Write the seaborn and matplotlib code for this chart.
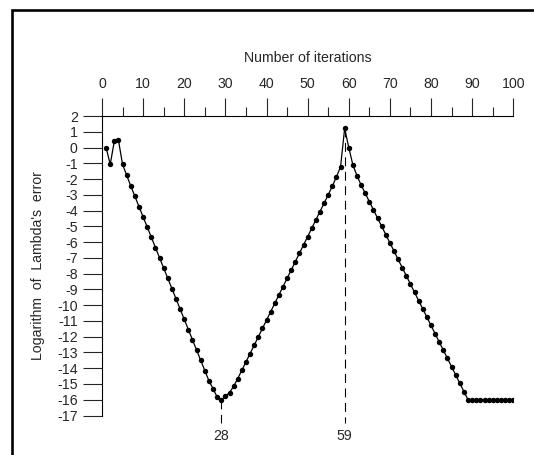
import matplotlib
matplotlib.use("Agg")
import matplotlib.pyplot as plt
from matplotlib.patches import Rectangle
from matplotlib.ticker import MultipleLocator
import seaborn as sns
import pandas as pd

iterations = list(range(1, 101))
log_error = [
    0.00, -1.07, 0.41, 0.46, -1.07, -1.76, -2.44, -3.10, -3.75, -4.40,
    -5.05, -5.70, -6.35, -7.00, -7.65, -8.30, -8.95, -9.60, -10.25, -10.90,
    -11.55, -12.20, -12.85, -13.50, -14.15, -14.80, -15.30, -15.83, -16.00, -15.79,
    -15.55, -15.15, -14.66, -14.13, -13.60, -13.07, -12.54, -12.01, -11.48, -10.95,
    -10.42, -9.89, -9.36, -8.83, -8.30, -7.77, -7.24, -6.71, -6.18, -5.65,
    -5.12, -4.59, -4.06, -3.53, -3.00, -2.45, -1.86, -1.22, 1.22, 0.00,
    -1.11, -1.79, -2.38, -2.90, -3.43, -3.95, -4.48, -5.00, -5.52, -6.05,
    -6.57, -7.10, -7.62, -8.14, -8.67, -9.19, -9.72, -10.24, -10.76, -11.29,
    -11.81, -12.34, -12.86, -13.38, -13.91, -14.43, -14.96, -15.48, -16.00, -16.00,
    -16.00, -16.00, -16.00, -16.00, -16.00, -16.00, -16.00, -16.00, -16.00, -16.00,
]
marked_x = [29, 59]
marked_labels = ["28", "59"]
x_ticks = list(range(0, 101, 10))
y_ticks = list(range(-17, 3))

sns.set_style("white")
plt.rcParams['font.family'] = ['Liberation Sans', 'DejaVu Sans']

FS = 10.2

df = pd.DataFrame({"iter": iterations, "err": log_error})

fig = plt.figure(figsize=(5.34, 4.55), dpi=100)
ax = fig.add_axes([102 / 534, 1 - 415.5 / 455, (513.3 - 102) / 534, (415.5 - 116) / 455])

sns.lineplot(data=df, x="iter", y="err", ax=ax, color="black", linewidth=0.9,
             marker="o", markersize=3.9, markeredgewidth=0, markerfacecolor="black")

ax.set_xlim(0, 100)
ax.set_ylim(-17, 2)

# dashed markers at min and max
for xv, lab in zip(marked_x, marked_labels):
    yv = log_error[iterations.index(xv)]
    ax.plot([xv, xv], [yv, -17.5], color="black", linewidth=0.8,
            linestyle=(0, (8, 5)), clip_on=False)
    ax.text(xv, -18.3, lab, ha="center", va="center", fontsize=FS, clip_on=False)

ax.xaxis.tick_top()
ax.xaxis.set_label_position("top")
ax.set_xticks(x_ticks)
ax.set_xticklabels([str(t) for t in x_ticks])
ax.xaxis.set_minor_locator(MultipleLocator(5))
ax.set_yticks(y_ticks)
ax.set_yticklabels([str(t) for t in y_ticks])

ax.tick_params(axis="x", which="major", direction="out", length=13, width=0.8,
               labelsize=FS, pad=5, top=True, bottom=False)
ax.tick_params(axis="x", which="minor", direction="out", length=6.5, width=0.8,
               top=True, bottom=False)
ax.tick_params(axis="y", which="major", direction="out", length=13.5, width=0.8,
               labelsize=FS, pad=4, left=True)

for side in ["right", "bottom"]:
    ax.spines[side].set_visible(False)
for side in ["left", "top"]:
    ax.spines[side].set_visible(True)
    ax.spines[side].set_color("black")
    ax.spines[side].set_linewidth(0.8)

ax.set_xlabel("Number of iterations", fontsize=FS, labelpad=11)
ax.set_ylabel("Logarithm  of  Lambda's  error", fontsize=FS, labelpad=9)

# outer frame
fig.patches.append(Rectangle((12 / 534, -0.2), 1.5, 1.2 - 10.3 / 455,
                             transform=fig.transFigure, fill=False,
                             edgecolor="black", linewidth=1.9))

fig.savefig("out.png", dpi=100)
